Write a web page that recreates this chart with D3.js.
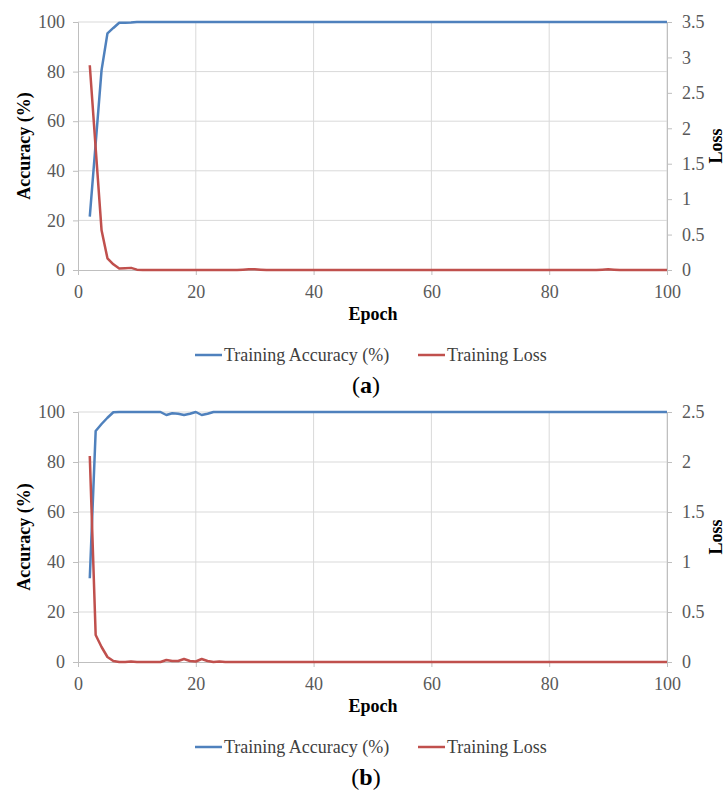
<!DOCTYPE html>
<html><head><meta charset="utf-8">
<script src="https://cdn.jsdelivr.net/npm/d3@7"></script>
<style>body{margin:0;background:#fff}svg{display:block}</style>
</head><body>
<script>
// ---------- DATA ----------
const epochs = d3.range(2, 101); // epochs 2..100
const accTicks = [0, 20, 40, 60, 80, 100];
const epochTicks = [0, 20, 40, 60, 80, 100];
const lossTicksA = [0, 0.5, 1, 1.5, 2, 2.5, 3, 3.5];
const lossTicksB = [0, 0.5, 1, 1.5, 2, 2.5];

const accA = [
  21.5, 51, 80.6, 95.4, 97.6, 99.7, 99.7, 99.8, 100,
  100,100,100,100,100,100,100,100,100,100,
  100,100,100,100,100,100,100,100,100,100,
  100,100,100,100,100,100,100,100,100,100,
  100,100,100,100,100,100,100,100,100,100,
  100,100,100,100,100,100,100,100,100,100,
  100,100,100,100,100,100,100,100,100,100,
  100,100,100,100,100,100,100,100,100,100,
  100,100,100,100,100,100,100,100,100,100,
  100,100,100,100,100,100,100,100,100,100
];
const lossA = [
  2.89, 1.72, 0.56, 0.165, 0.08, 0.02, 0.025, 0.03, 0.005,
  0,0,0,0,0,0,0,0,0,0,
  0,0,0,0,0,0,0,0.005,0.01,0.01,
  0.005,0,0,0,0,0,0,0,0,0,
  0,0,0,0,0,0,0,0,0,0,
  0,0,0,0,0,0,0,0,0,0,
  0,0,0,0,0,0,0,0,0,0,
  0,0,0,0,0,0,0,0,0,0,
  0,0,0,0,0,0,0,0,0.005,0.01,
  0.005,0,0,0,0,0,0,0,0,0
];
const accB = [
  33.5, 92.4, 95.2, 97.7, 99.9, 100, 100, 100, 100,
  100,100,100,100,98.8,99.5,99.3,98.8,99.3,100,
  98.8,99.3,100,100,100,100,100,100,100,100,
  100,100,100,100,100,100,100,100,100,100,
  100,100,100,100,100,100,100,100,100,100,
  100,100,100,100,100,100,100,100,100,100,
  100,100,100,100,100,100,100,100,100,100,
  100,100,100,100,100,100,100,100,100,100,
  100,100,100,100,100,100,100,100,100,100,
  100,100,100,100,100,100,100,100,100,100
];
const lossB = [
  2.06, 0.27, 0.15, 0.05, 0.01, 0, 0, 0.005, 0,
  0,0,0,0,0.02,0.01,0.01,0.03,0.01,0.005,
  0.03,0.01,0,0.005,0,0,0,0,0,0,
  0,0,0,0,0,0,0,0,0,0,
  0,0,0,0,0,0,0,0,0,0,
  0,0,0,0,0,0,0,0,0,0,
  0,0,0,0,0,0,0,0,0,0,
  0,0,0,0,0,0,0,0,0,0,
  0,0,0,0,0,0,0,0,0,0,
  0,0,0,0,0,0,0,0,0,0
];
const seriesNames = ["Training Accuracy (%)", "Training Loss"];
const colors = ["#4f81bd", "#c0504d"];

// ---------- DRAW ----------
const W = 726, H = 792;
const FONT = "Liberation Serif";
const svg = d3.select("body").append("svg").attr("width", W).attr("height", H)
  .attr("font-family", FONT);

function chart(cfg) {
  const g = svg.append("g").attr("font-family", FONT);
  const x = d3.scaleLinear().domain([0, 100]).range([78, 667]);
  const yL = d3.scaleLinear().domain([0, 100]).range([cfg.bottom, cfg.top]);
  const yR = d3.scaleLinear().domain([0, cfg.lossMax]).range([cfg.bottom, cfg.top]);

  g.selectAll(".hg").data(accTicks.slice(1)).join("line")
    .attr("x1", x(0)).attr("x2", x(100))
    .attr("y1", d => yL(d)).attr("y2", d => yL(d))
    .attr("stroke", "#d9d9d9").attr("stroke-width", 1);
  g.selectAll(".vg").data(epochTicks.slice(1)).join("line")
    .attr("x1", d => x(d)).attr("x2", d => x(d))
    .attr("y1", yL(0)).attr("y2", yL(100))
    .attr("stroke", "#d9d9d9").attr("stroke-width", 1);

  const axL = g.append("g").attr("transform", `translate(${x(0)},0)`)
    .call(d3.axisLeft(yL).tickValues(accTicks).tickSize(5).tickPadding(8));
  const axR = g.append("g").attr("transform", `translate(${x(100)},0)`)
    .call(d3.axisRight(yR).tickValues(cfg.lossTicks).tickSize(5).tickPadding(10)
      .tickFormat(d3.format("~g")));
  const axB = g.append("g").attr("transform", `translate(0,${yL(0)})`)
    .call(d3.axisBottom(x).tickValues(epochTicks).tickSize(5).tickPadding(10));

  [axL, axR, axB].forEach(a => {
    a.attr("font-family", FONT).attr("font-size", 18);
    a.select(".domain").attr("stroke", "#bfbfbf");
    a.selectAll(".tick line").attr("stroke", "#bfbfbf");
    a.selectAll(".tick text").attr("fill", "#595959").attr("font-family", FONT);
  });

  const lineAcc = d3.line().x((d, i) => x(epochs[i])).y(d => yL(d));
  const lineLoss = d3.line().x((d, i) => x(epochs[i])).y(d => yR(d));
  g.append("path").datum(cfg.acc).attr("d", lineAcc)
    .attr("fill", "none").attr("stroke", colors[0]).attr("stroke-width", 2.5)
    .attr("stroke-linejoin", "round");
  g.append("path").datum(cfg.loss).attr("d", lineLoss)
    .attr("fill", "none").attr("stroke", colors[1]).attr("stroke-width", 2.5)
    .attr("stroke-linejoin", "round");

  const mid = (cfg.top + cfg.bottom) / 2;
  g.append("text").attr("transform", `translate(30,${mid}) rotate(-90)`)
    .attr("text-anchor", "middle").attr("font-size", 18).attr("font-weight", "bold")
    .attr("font-family", FONT).text("Accuracy (%)");
  g.append("text").attr("transform", `translate(722,${mid}) rotate(-90)`)
    .attr("text-anchor", "middle").attr("font-size", 18).attr("font-weight", "bold")
    .attr("font-family", FONT).text("Loss");
  g.append("text").attr("x", 373).attr("y", cfg.bottom + 50)
    .attr("text-anchor", "middle").attr("font-size", 18).attr("font-weight", "bold")
    .attr("font-family", FONT).text("Epoch");

  const ly = cfg.bottom + 85;
  const items = [{x: 195, w: 27}, {x: 418, w: 27}];
  items.forEach((it, i) => {
    g.append("line").attr("x1", it.x).attr("x2", it.x + it.w)
      .attr("y1", ly).attr("y2", ly).attr("stroke", colors[i]).attr("stroke-width", 2.5);
    g.append("text").attr("x", it.x + it.w + 2).attr("y", ly + 6)
      .attr("fill", "#404040").attr("font-size", 18).attr("font-family", FONT)
      .text(seriesNames[i]);
  });

  const t = g.append("text").attr("x", 366).attr("y", cfg.bottom + 123)
    .attr("text-anchor", "middle").attr("font-size", 24).attr("font-family", FONT);
  t.append("tspan").text("(");
  t.append("tspan").attr("font-weight", "bold").text(cfg.label);
  t.append("tspan").text(")");
}

chart({top: 22, bottom: 270, lossMax: 3.5, lossTicks: lossTicksA, acc: accA, loss: lossA, label: "a"});
chart({top: 412, bottom: 662, lossMax: 2.5, lossTicks: lossTicksB, acc: accB, loss: lossB, label: "b"});
</script>
</body></html>
